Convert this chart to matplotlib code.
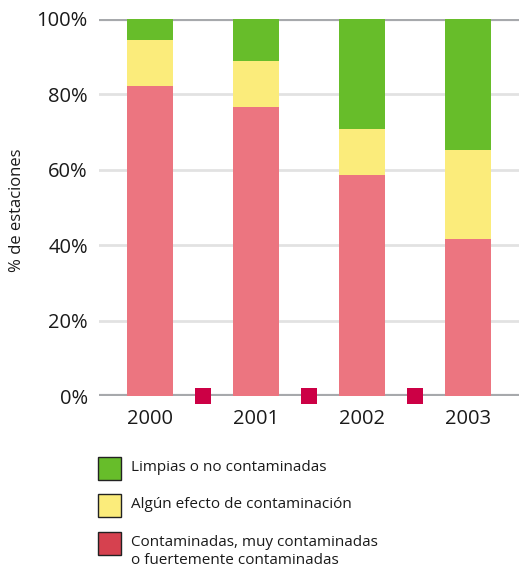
import matplotlib
matplotlib.use("Agg")
import matplotlib.pyplot as plt
from matplotlib.patches import Rectangle
import numpy as np

years = ["2000", "2001", "2002", "2003"]
contaminadas = [82.2, 76.7, 58.6, 41.6]
algun_efecto = [12.2, 12.2, 12.2, 23.7]
limpias = [5.6, 11.1, 29.2, 34.7]
y_ticks = [0, 20, 40, 60, 80, 100]
legend_labels = [
    "Limpias o no contaminadas",
    "Algún efecto de contaminación",
    "Contaminadas, muy contaminadas\no fuertemente contaminadas",
]

plt.rcParams["font.family"] = ["Open Sans", "DejaVu Sans"]

GREEN = "#67bd2a"
YELLOW = "#fbec7b"
RED = "#ec7580"
RED_DARK = "#d6414f"
MARK = "#cc0045"
GRID = "#e2e2e2"
AXIS = "#a7a9ac"

fig = plt.figure(figsize=(5.19, 5.74), dpi=100)
ax = fig.add_axes([99 / 519, 1 - 396 / 574, 420 / 519, 377 / 574])

x = np.arange(len(years))
w = 0.434
bottom2 = np.array(contaminadas)
bottom3 = bottom2 + np.array(algun_efecto)
ax.bar(x, contaminadas, w, color=RED, zorder=2)
ax.bar(x, algun_efecto, w, bottom=bottom2, color=YELLOW, zorder=2)
ax.bar(x, limpias, w, bottom=bottom3, color=GREEN, zorder=2)

for t in y_ticks:
    if t in (0, 100):
        ax.axhline(t, color=AXIS, lw=3, zorder=1, solid_capstyle="butt")
    else:
        ax.axhline(t, color=GRID, lw=2, zorder=1)

# separators between years
sep = x[:-1] + 0.5
ax.scatter(sep, np.zeros_like(sep), marker="s", s=130, color=MARK, zorder=4,
           clip_on=False, linewidths=0)

ax.set_xlim(-0.481, 3.481)
ax.set_ylim(0, 100)
ax.set_yticks(y_ticks)
ax.set_yticklabels([f"{t}%" for t in y_ticks], fontsize=14.5, color="#1a1a1a")
ax.set_xticks(x)
ax.set_xticklabels(years, fontsize=14.5, color="#1a1a1a")
ax.tick_params(axis="both", length=0)
ax.tick_params(axis="y", pad=8)
ax.tick_params(axis="x", pad=9)
for s in ax.spines.values():
    s.set_visible(False)

fig.text(17 / 519, 1 - 210 / 574, "% de estaciones", rotation=90,
         ha="center", va="center", fontsize=12, color="#1a1a1a")

# legend
leg_colors = [GREEN, YELLOW, RED_DARK]
leg_top = [457, 494, 532]
for c, top, lab in zip(leg_colors, leg_top, legend_labels):
    fig.patches.append(Rectangle((98 / 519, 1 - (top + 23) / 574), 23 / 519, 23 / 574,
                                 transform=fig.transFigure, facecolor=c,
                                 edgecolor="#222222", lw=1.0))
    fig.text(131 / 519, 1 - (top + 3) / 574, lab, ha="left", va="top",
             fontsize=11, color="#1a1a1a", linespacing=1.25)

fig.savefig("out.png", dpi=100)
